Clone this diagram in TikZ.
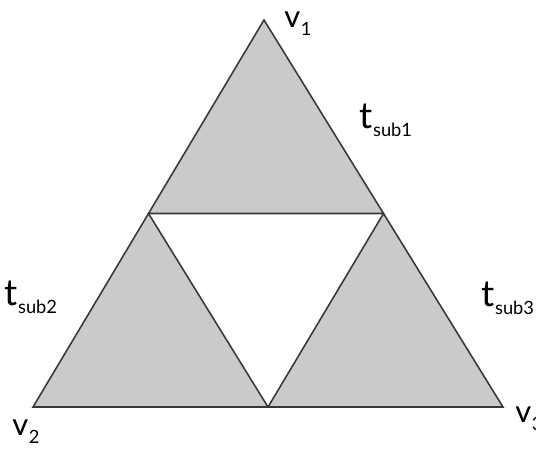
\documentclass[tikz,border=0pt]{standalone}
\usepackage{fontspec}
\setmainfont{Lato}
\usepackage{tikz}
\usetikzlibrary{positioning,calc}
\definecolor{TriGray}{RGB}{202,202,202}
\definecolor{EdgeGray}{RGB}{55,55,55}
\tikzset{
  tri/.style={fill=TriGray,draw=EdgeGray,line width=1.1pt,line join=miter},
  lab/.style={inner sep=0pt,anchor=base west},
}
\newcommand{\vlab}[3]{{\fontsize{#3}{#3}\selectfont #1}\kern0.5pt\raisebox{-6pt}{\fontsize{13}{13}\selectfont #2}}

\begin{document}
\begin{tikzpicture}[x=0.025cm,y=-0.025cm]
\useasboundingbox (0,0) rectangle (536,449);
\coordinate (v1) at (264,20);
\coordinate (v2) at (33,407);
\coordinate (v3) at (503,407);
\coordinate (m12) at ($(v1)!0.5!(v2)$);
\coordinate (m13) at ($(v1)!0.5!(v3)$);
\coordinate (m23) at ($(v2)!0.5!(v3)$);
% the three corner triangles
\draw[tri] (v1)--(m12)--(m13)--cycle;
\draw[tri] (m12)--(v2)--(m23)--cycle;
\draw[tri] (m13)--(m23)--(v3)--cycle;
\node[lab] (lv1) at (284,27) {\vlab{v}{1}{22}};
\node[lab] (lv2) at (12,435) {\vlab{v}{2}{22}};
\node[lab] (lv3) at (515,422) {\vlab{v}{3}{22}};
\node[lab] (lt1) at (359,128) {\vlab{t}{sub1}{26}};
\node[lab] (lt2) at (4,305) {\vlab{t}{sub2}{26}};
\node[lab] (lt3) at (481,306) {\vlab{t}{sub3}{26}};
\end{tikzpicture}
\end{document}
